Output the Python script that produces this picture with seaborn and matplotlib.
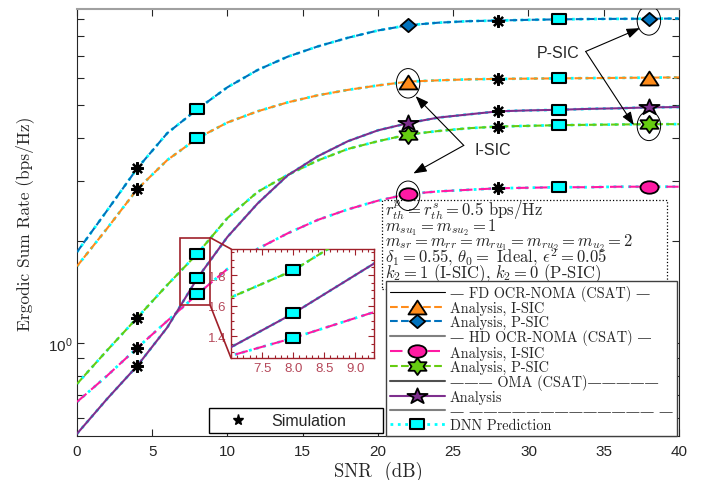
import numpy as np
import pandas as pd
import matplotlib.pyplot as plt
import seaborn as sns
from matplotlib.lines import Line2D
from matplotlib.patches import Ellipse, Rectangle, ConnectionPatch
from matplotlib.path import Path
from matplotlib.markers import MarkerStyle
from matplotlib.ticker import FixedLocator, NullFormatter, MultipleLocator

# SNR grid (dB) and ergodic sum rate curves (bps/Hz)
snr = list(range(0, 41, 2))
fd_isic = [1.68, 2.17, 2.83, 3.45, 4.0, 4.45, 4.8, 5.1, 5.35, 5.55, 5.72,
           5.87, 5.92, 5.96, 5.98, 5.99, 6.0, 6.01, 6.02, 6.03, 6.04]
fd_psic = [1.85, 2.45, 3.26, 4.14, 4.87, 5.65, 6.35, 6.95, 7.45, 7.9, 8.3,
           8.6, 8.75, 8.84, 8.88, 8.92, 8.95, 8.97, 8.98, 8.99, 9.0]
hd_isic = [0.67, 0.8, 0.966, 1.16, 1.39, 1.65, 1.89, 2.1, 2.3, 2.47, 2.62,
           2.74, 2.79, 2.82, 2.85, 2.86, 2.87, 2.87, 2.88, 2.88, 2.88]
hd_psic = [0.757, 0.95, 1.185, 1.48, 1.83, 2.33, 2.78, 3.12, 3.44, 3.72, 3.92,
           4.1, 4.2, 4.28, 4.33, 4.35, 4.37, 4.38, 4.39, 4.4, 4.4]
oma = [0.54, 0.684, 0.855, 1.11, 1.55, 2.05, 2.57, 3.11, 3.54, 3.92, 4.22,
       4.43, 4.6, 4.7, 4.8, 4.83, 4.85, 4.88, 4.9, 4.93, 4.94]

# where the different marker types sit
sim_snr = [4, 28]      # Monte-Carlo simulation points
ana_snr = [22, 38]     # analysis markers
dnn_snr = [8, 32]      # DNN prediction markers

BLUE = '#0072BD'
ORANGE = '#FF8C1A'
PINK = '#FF1AA3'
GREEN = '#66CC11'
PURPLE = '#7E2F8E'
CYAN = '#00FFFF'
DARKRED = '#A0202A'
CM = ['cmr10', 'DejaVu Serif']
DASH = '—'


def wide(marker, sx=1.3):
    """Horizontally stretched marker (the original figure is stretched)."""
    if isinstance(marker, Path):
        path = marker
    else:
        ms = MarkerStyle(marker)
        path = ms.get_path().transformed(ms.get_transform())
    return Path(path.vertices * [sx, 1.0], path.codes)


TRI = wide('^')
DIA = wide('D', 1.15)
CIRC = wide('o', 1.45)
HEXA = wide(Path.unit_regular_star(6, 0.577), 1.22)
PENTA = wide('*')
SQ = wide('s')
AST = (8, 2, 0)

curves = [
    # name, color, linestyle, marker, marker size
    ('fd_isic', ORANGE, '--', TRI, 13),
    ('fd_psic', BLUE, '--', DIA, 11),
    ('hd_isic', PINK, (0, (6, 3)), CIRC, 13),
    ('hd_psic', GREEN, '--', HEXA, 13),
    ('oma', PURPLE, '-', PENTA, 14.5),
]

df = pd.DataFrame({'snr': snr, 'fd_isic': fd_isic, 'fd_psic': fd_psic,
                   'hd_isic': hd_isic, 'hd_psic': hd_psic, 'oma': oma})


def pick(col, xs):
    sub = df.set_index('snr').loc[xs, col]
    return list(sub.index), list(sub.values)


def draw_curves(axis, with_sim=True):
    # DNN prediction (dotted cyan) underneath the analytical curves
    for name, color, ls, mk, ms in curves:
        sns.lineplot(data=df, x='snr', y=name, ax=axis, color=CYAN,
                     linestyle=':', linewidth=2.0, zorder=2)
    for name, color, ls, mk, ms in curves:
        sns.lineplot(data=df, x='snr', y=name, ax=axis, color=color,
                     linestyle=ls, linewidth=1.5, zorder=3)
        xa, ya = pick(name, ana_snr)
        axis.plot(xa, ya, linestyle='none', marker=mk, markersize=ms,
                  markerfacecolor=color, markeredgecolor='k',
                  markeredgewidth=1.3, zorder=5)
        xd, yd = pick(name, dnn_snr)
        axis.plot(xd, yd, linestyle='none', marker=SQ, markersize=9.5,
                  markerfacecolor=CYAN, markeredgecolor='k',
                  markeredgewidth=1.5, zorder=5)
        if with_sim:
            xs, ys = pick(name, sim_snr)
            axis.plot(xs, ys, linestyle='none', marker=AST, markersize=9,
                      color='k', markeredgewidth=1.6, zorder=6)
    axis.set_xlabel('')
    axis.set_ylabel('')


sns.set_style('ticks')
plt.rcParams['font.family'] = ['Liberation Sans', 'DejaVu Sans']
plt.rcParams['mathtext.fontset'] = 'cm'

fig = plt.figure(figsize=(7.01, 4.81), dpi=100)
ax = fig.add_axes([0.1098, 0.0915, 0.8588, 0.8877])

draw_curves(ax)

ax.set_yscale('log')
ax.set_xlim(0, 40)
ax.set_ylim(0.532, 9.6)
ax.set_xticks(range(0, 41, 5))
ax.yaxis.set_minor_formatter(NullFormatter())
ax.tick_params(which='both', direction='in', top=True, right=True,
               length=5, width=0.8, labelsize=11, colors='#262626')
ax.tick_params(axis='x', pad=5.5)
for side in ['left', 'right', 'bottom']:
    ax.spines[side].set_color('#262626')
ax.spines['top'].set_color('#a0a0a0')
ax.spines['top'].set_linewidth(1.5)

ax.set_xlabel('SNR  (dB)', family=CM, fontsize=13.5, labelpad=2)
ax.set_ylabel('Ergodic Sum Rate (bps/Hz)', family=CM, fontsize=12.5,
              labelpad=10)


# ellipses around the analysis markers that the arrows point to
def to_axes(x, y):
    return ax.transAxes.inverted().transform(ax.transData.transform((x, y)))


circled = [(fd_psic, 38), (hd_psic, 38), (fd_isic, 22), (hd_isic, 22)]
for vals, xv in circled:
    yv = vals[snr.index(xv)]
    cx, cy = to_axes(xv, yv)
    ax.add_patch(Ellipse((cx, cy - 0.004), 0.039, 0.069, transform=ax.transAxes,
                         fill=False, ec='k', lw=0.7, zorder=7))

arrow = dict(arrowstyle='-|>,head_length=0.8,head_width=0.3', color='k',
             lw=0.8, mutation_scale=10, shrinkA=0, shrinkB=0)
ax.text(32.0, 7.17, 'P-SIC', ha='center', va='center', fontsize=11.5)
ax.annotate('', xy=(37.4, 8.43), xytext=(33.8, 7.2), arrowprops=arrow)
ax.annotate('', xy=(37.0, 4.37), xytext=(33.8, 7.2), arrowprops=arrow)
ax.text(27.6, 3.71, 'I-SIC', ha='center', va='center', fontsize=11.5)
ax.annotate('', xy=(22.5, 5.32), xytext=(25.7, 3.81), arrowprops=arrow)
ax.annotate('', xy=(22.35, 3.15), xytext=(25.7, 3.81), arrowprops=arrow)

# parameter box (dotted frame, one text per line)
params = [
    r'$r_{th}^{p} = r_{th}^{s} = 0.5$ bps/Hz',
    r'$m_{su_1} = m_{su_2} = 1$',
    r'$m_{sr} = m_{rr} = m_{ru_1} = m_{ru_2} = m_{u_2} = 2$',
    r'$\delta_1 = 0.55$, $\theta_0 =$ Ideal, $\epsilon^2 = 0.05$',
    r'$k_2 = 1$ (I-SIC), $k_2 = 0$ (P-SIC)',
]
ax.add_patch(Rectangle((0.507, 0.345), 0.473, 0.208, transform=ax.transAxes,
                       fc='white', ec='k', ls=':', lw=0.9, zorder=4))
for i, line in enumerate(params):
    ax.text(0.511, 0.519 - i * 0.0365, line, transform=ax.transAxes,
            ha='left', va='baseline', fontsize=12, family=CM, zorder=4.5)

# main legend
handles = [
    Line2D([], [], color='k', lw=0.8, label=DASH + ' FD OCR-NOMA (CSAT) ' + DASH),
    Line2D([], [], color=ORANGE, ls='--', lw=1.5, marker=TRI, ms=13,
           mfc=ORANGE, mec='k', mew=1.3, label='Analysis, I-SIC'),
    Line2D([], [], color=BLUE, ls='--', lw=1.5, marker=DIA, ms=11,
           mfc=BLUE, mec='k', mew=1.3, label='Analysis, P-SIC'),
    Line2D([], [], color='#808080', lw=1.5,
           label=DASH + ' HD OCR-NOMA (CSAT) ' + DASH),
    Line2D([], [], color=PINK, ls=(0, (6, 3)), lw=1.5, marker=CIRC, ms=13,
           mfc=PINK, mec='k', mew=1.3, label='Analysis, I-SIC'),
    Line2D([], [], color=GREEN, ls='--', lw=1.5, marker=HEXA, ms=13,
           mfc=GREEN, mec='k', mew=1.3, label='Analysis, P-SIC'),
    Line2D([], [], color='#505050', lw=1.5,
           label=DASH * 3 + ' OMA (CSAT)' + DASH * 5),
    Line2D([], [], color=PURPLE, lw=1.5, marker=PENTA, ms=14.5,
           mfc=PURPLE, mec='k', mew=1.3, label='Analysis'),
    Line2D([], [], color='#808080', lw=1.5,
           label=DASH + ' ' + DASH * 13 + ' ' + DASH),
    Line2D([], [], color=CYAN, ls=':', lw=2.0, marker=SQ, ms=9.5,
           mfc=CYAN, mec='k', mew=1.5, label='DNN Prediction'),
]
leg = ax.legend(handles=handles, loc='lower right', bbox_to_anchor=(0.997, 0.0),
                borderaxespad=0.0, prop={'family': CM, 'size': 10.3},
                handlelength=3.8, handletextpad=0.35, labelspacing=0.01,
                borderpad=0.3, fancybox=False, framealpha=1,
                edgecolor='#404040')
leg.get_frame().set_linewidth(1.0)
leg.set_zorder(8)
ax.add_artist(leg)

sim = [Line2D([], [], color='k', ls='none', marker='*', ms=8,
              label='Simulation')]
leg2 = ax.legend(handles=sim, loc='center',
                 bbox_to_anchor=(0.219, 0.005, 0.29, 0.062), mode='expand',
                 fontsize=11.5, handlelength=3, handletextpad=0.6,
                 borderpad=0.3, fancybox=False, framealpha=1,
                 edgecolor='k', borderaxespad=0.0)
leg2.get_frame().set_linewidth(1.0)
leg2.set_zorder(7)

# zoom box and inset
ax.add_patch(Rectangle((6.85, 1.29), 2.0, 0.75, fill=False, ec=DARKRED,
                       lw=1.2, zorder=7))

axins = fig.add_axes([0.3295, 0.2537, 0.204, 0.2266])
draw_curves(axins, with_sim=False)
axins.set_xlim(7.0, 9.3)
axins.set_ylim(1.26, 1.97)
axins.xaxis.set_major_locator(FixedLocator([7.5, 8, 8.5, 9]))
axins.yaxis.set_major_locator(FixedLocator([1.4, 1.6, 1.8]))
axins.xaxis.set_minor_locator(MultipleLocator(0.1))
axins.yaxis.set_minor_locator(MultipleLocator(0.05))
axins.tick_params(which='both', direction='in', top=True, right=True,
                  color=DARKRED, labelcolor='#B5485A', labelsize=9.5,
                  width=0.8, pad=3)
axins.tick_params(which='major', length=4)
axins.tick_params(which='minor', length=2.5)
for s in axins.spines.values():
    s.set_color(DARKRED)
    s.set_linewidth(1.0)

for ya, yb in [(2.04, 1.97), (1.29, 1.26)]:
    con = ConnectionPatch(xyA=(8.85, ya), coordsA=ax.transData,
                          xyB=(7.0, yb), coordsB=axins.transData,
                          color=DARKRED, lw=1.2)
    fig.add_artist(con)

plt.savefig('out.png', dpi=100)
